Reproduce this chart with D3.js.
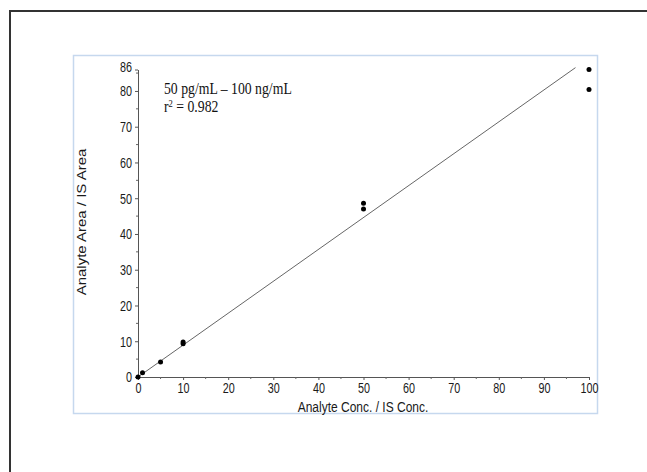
<!DOCTYPE html>
<html>
<head>
<meta charset="utf-8">
<script src="https://cdn.jsdelivr.net/npm/d3@7/dist/d3.min.js"></script>
<style>
    html, body { margin: 0; padding: 0; background: #fff; }
    svg { display: block; }
</style>
</head>
<body>
<svg></svg>
<script>
// calibration data
const concX = [0, 1, 5, 10, 10, 50, 50, 100, 100];
const ratioY = [0, 1.2, 4.2, 9.8, 9.3, 48.6, 47.0, 86.0, 80.4];
const xTicks = [0, 10, 20, 30, 40, 50, 60, 70, 80, 90, 100];
const yTicks = [0, 10, 20, 30, 40, 50, 60, 70, 80, 86];
const fitSlope = 0.892;
const fitIntercept = 0;
const fitRange = [0, 97];
const noteText = "50 pg/mL \u2013 100 ng/mL";
const r2Value = "0.982";

const WIDTH = 647, HEIGHT = 472;
const SANS = '"Liberation Sans", Arial, sans-serif';
const SERIF = '"Liberation Serif", "Times New Roman", serif';
// the source image is squeezed horizontally, so text is narrowed
const TICK_SQUEEZE = 0.72;
const TITLE_SQUEEZE = 0.8;
const NOTE_SQUEEZE = 0.86;

const svg = d3.select('svg')
    .attr('width', WIDTH)
    .attr('height', HEIGHT);

// outer black frame (only top and left edges fall inside the picture)
svg.append('path')
    .attr('d', `M10,${HEIGHT + 5} L10,11 L${WIDTH + 5},11`)
    .style('fill', 'none')
    .style('stroke', '#333')
    .style('stroke-width', 2);

// light blue chart frame
svg.append('rect')
    .attr('x', 73.5).attr('y', 55.5)
    .attr('width', 524).attr('height', 358)
    .style('fill', '#fff')
    .style('stroke', '#c6d8ee')
    .style('stroke-width', 1.5);

const xScale = d3.scaleLinear().domain([0, 100]).range([138, 589]);
const yScale = d3.scaleLinear().domain([0, 86]).range([377, 69.5]);

const chart = svg.append('g');

// minor ticks every 5
const xMinor = d3.range(5, 100, 10);
const yMinor = d3.range(5, 86, 10);

// x axis
const xAxis = chart.append('g')
    .attr('transform', `translate(0,${yScale(0)})`)
    .call(d3.axisBottom(xScale).tickValues(xTicks).tickSize(3).tickSizeOuter(0));
chart.append('g')
    .attr('transform', `translate(0,${yScale(0)})`)
    .selectAll('line')
    .data(xMinor)
    .enter()
    .append('line')
    .attr('x1', d => xScale(d)).attr('x2', d => xScale(d))
    .attr('y1', 0).attr('y2', 2)
    .style('stroke', '#666');

// y axis
const yAxis = chart.append('g')
    .attr('transform', `translate(${xScale(0)},0)`)
    .call(d3.axisLeft(yScale).tickValues(yTicks).tickSize(3).tickSizeOuter(0));
chart.append('g')
    .attr('transform', `translate(${xScale(0)},0)`)
    .selectAll('line')
    .data(yMinor)
    .enter()
    .append('line')
    .attr('x1', 0).attr('x2', -2)
    .attr('y1', d => yScale(d)).attr('y2', d => yScale(d))
    .style('stroke', '#666');

[xAxis, yAxis].forEach(ax => {
    ax.select('.domain').style('stroke', '#555');
    ax.selectAll('.tick line').style('stroke', '#555');
    ax.selectAll('.tick text')
        .style('font-family', SANS)
        .style('font-size', '15px')
        .style('fill', '#1a1a1a');
});

xAxis.selectAll('.tick text')
    .attr('y', 0)
    .attr('transform', `translate(0,5) scale(${TICK_SQUEEZE},1)`);

yAxis.selectAll('.tick text')
    .attr('x', 0)
    .attr('transform', d => `translate(-6,${d === 86 ? -3 : 0}) scale(${TICK_SQUEEZE},1)`);

// axis titles
chart.append('text')
    .text('Analyte Conc. / IS Conc.')
    .attr('transform', `translate(363,412) scale(${TITLE_SQUEEZE},1)`)
    .style('font-family', SANS)
    .style('font-size', '15px')
    .style('fill', '#1a1a1a')
    .style('text-anchor', 'middle');

chart.append('text')
    .text('Analyte Area / IS Area')
    .attr('transform', `translate(86,222) scale(${TITLE_SQUEEZE},1) rotate(-90)`)
    .style('font-family', SANS)
    .style('font-size', '15px')
    .style('fill', '#1a1a1a')
    .style('text-anchor', 'middle');

// regression line
chart.append('line')
    .attr('x1', xScale(fitRange[0]))
    .attr('y1', yScale(fitIntercept + fitSlope * fitRange[0]))
    .attr('x2', xScale(fitRange[1]))
    .attr('y2', yScale(fitIntercept + fitSlope * fitRange[1]))
    .style('stroke', '#666')
    .style('stroke-width', 1);

// calibration points
chart.selectAll('.pt')
    .data(concX.map((x, i) => ({ x: x, y: ratioY[i] })))
    .enter()
    .append('circle')
    .classed('pt', true)
    .attr('cx', d => xScale(d.x))
    .attr('cy', d => yScale(d.y))
    .attr('r', 2.5)
    .style('fill', '#000');

// annotation
chart.append('text')
    .text(noteText)
    .attr('transform', `translate(164,94) scale(${NOTE_SQUEEZE},1)`)
    .style('font-family', SERIF)
    .style('font-size', '16px')
    .style('fill', '#111');

const r2 = chart.append('text')
    .attr('transform', `translate(164,112) scale(${NOTE_SQUEEZE},1)`)
    .style('font-family', SERIF)
    .style('font-size', '16px')
    .style('fill', '#111');
r2.append('tspan').text('r');
r2.append('tspan').text('2').attr('dy', -5).style('font-size', '10px');
r2.append('tspan').text(' = ' + r2Value).attr('dy', 5);
</script>
</body>
</html>
